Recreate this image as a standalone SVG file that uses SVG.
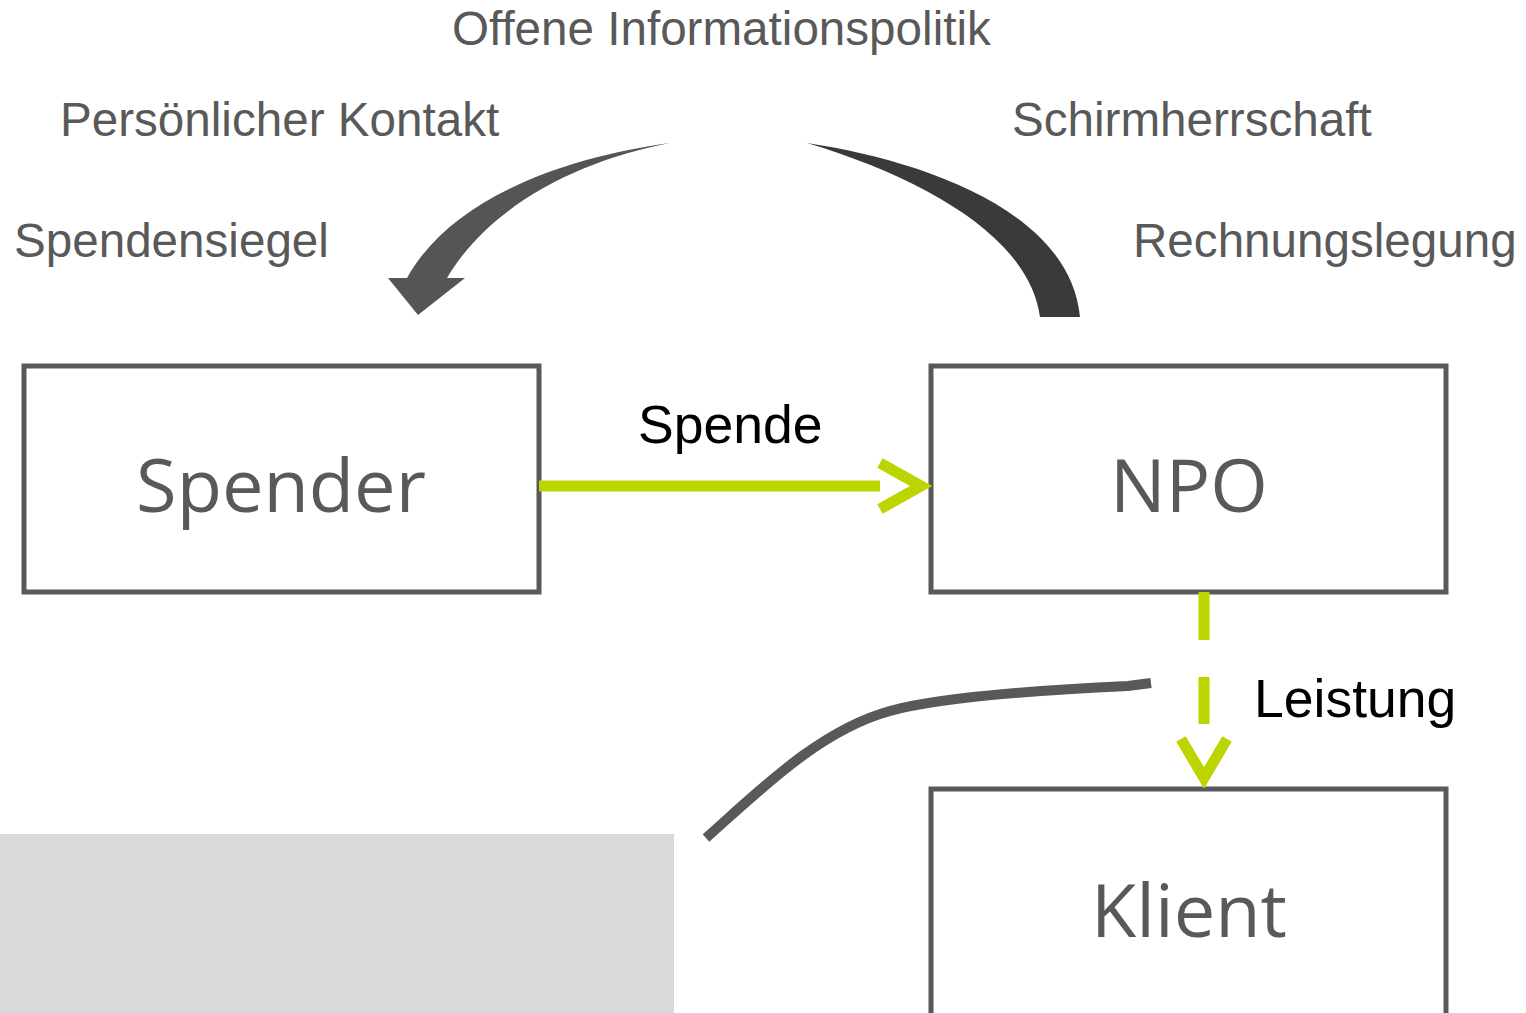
<svg xmlns="http://www.w3.org/2000/svg" width="1526" height="1013" viewBox="0 0 1526 1013">
<defs>
<style>
.lbl{font-family:"Liberation Sans",Arial,sans-serif;font-size:47.6px;fill:#595959}
.blk{font-family:"Liberation Sans",Arial,sans-serif;font-size:53.5px;fill:#000}
.box{fill:#fff;stroke:#595959;stroke-width:5}
.bt{font-family:"Open Sans",sans-serif;font-size:74px;fill:#595959;text-anchor:middle}
.g{fill:none;stroke:#bcd400;stroke-width:11}
</style>
</defs>
<rect width="1526" height="1013" fill="#fff"/>
<rect x="0" y="834" width="674" height="179" fill="#d9d9d9"/>
<g id="labels">
<text class="lbl" x="452" y="45">Offene Informationspolitik</text>
<text class="lbl" x="60" y="136">Persönlicher Kontakt</text>
<text class="lbl" x="1012" y="136">Schirmherrschaft</text>
<text class="lbl" x="14" y="257">Spendensiegel</text>
<text class="lbl" x="1133" y="257">Rechnungslegung</text>
</g>
<g id="spender"><rect class="box" x="24" y="366" width="515" height="226"/><text class="bt" x="281" y="512">Spender</text></g>
<g id="npo"><rect class="box" x="931" y="366" width="515" height="226"/><text class="bt" x="1189" y="512">NPO</text></g>
<g id="klient"><rect class="box" x="931" y="789" width="515" height="240"/><text class="bt" x="1189" y="937">Klient</text></g>
<g id="connectors">
<path d="M670,143 C560,158 450,200 407,278 L388,278 L418,315 L465,278 L447,278 C490,205 580,160 670,143 Z" fill="#555"/>
<path d="M807,143 C920,160 1070,210 1080,317 L1040,317 C1030,240 930,180 807,143 Z" fill="#3a3a3a"/>
<path d="M1151,683 L1128,686 C1000,692 930,700 890,711 C820,730 760,790 706,838" fill="none" stroke="#595959" stroke-width="10"/>
<line class="g" x1="539" y1="486" x2="880" y2="486"/>
<polyline class="g" points="880,463 921,486 880,509"/>
<line class="g" x1="1204" y1="592" x2="1204" y2="724" stroke-dasharray="48 37"/>
<polyline class="g" points="1181,739 1204,778 1227,739"/>
<text class="blk" x="638" y="443">Spende</text>
<text class="blk" x="1254" y="717">Leistung</text>
</g>
</svg>
